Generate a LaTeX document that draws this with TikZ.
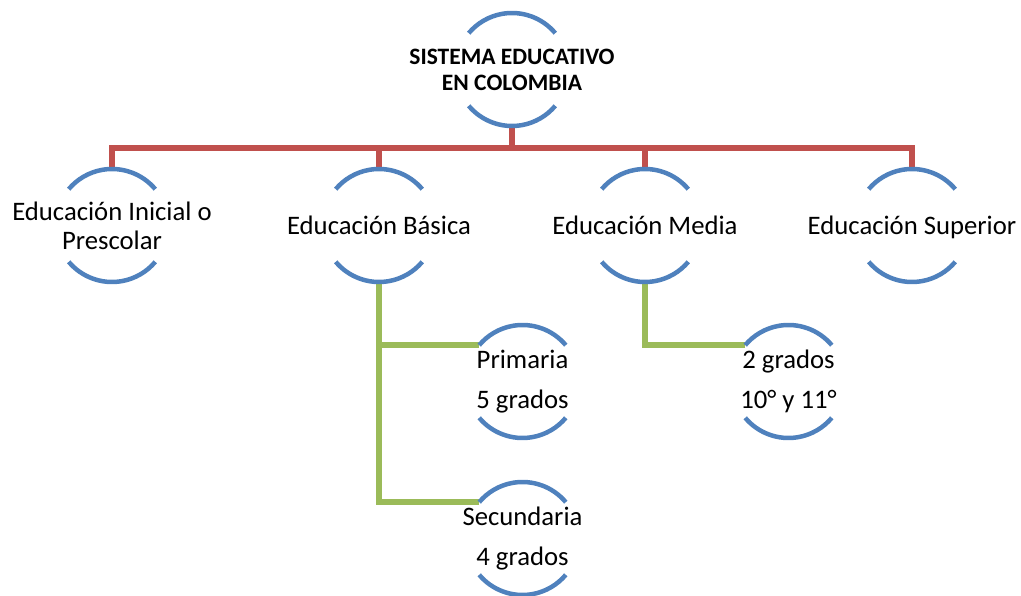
\documentclass[tikz,border=0pt]{standalone}
\usepackage{fontspec}
\setmainfont{Carlito}
\usepackage{tikz}
\definecolor{ringblue}{HTML}{4F81BD}
\definecolor{busred}{HTML}{C0504D}
\definecolor{subgreen}{HTML}{9BBB59}
\tikzset{
        ring/.style={circle, minimum size=113pt, inner sep=0pt, outer sep=0pt},
        lbl/.style={align=center, font=\fontsize{26.7}{29}\selectfont},
        lblone/.style={lbl, text height=22pt, text depth=4pt},
        lblwide/.style={align=center, font=\fontsize{26.7}{40}\selectfont},
        lbltop/.style={align=center, font=\fontsize{23.5}{26}\selectfont\bfseries},
        arcline/.style={draw=ringblue, line width=4.5pt},
        redline/.style={draw=busred, line width=6pt},
        greenline/.style={draw=subgreen, line width=6pt},
    }
\begin{document}
\begin{tikzpicture}[x = 1pt, y = 1pt]
                \useasboundingbox (0,0) rectangle (1021,596);
                \node[ring, label={[lbltop]center:{SISTEMA EDUCATIVO\\EN COLOMBIA}}] (sis) at (512,526.5) {};
                \node[ring, label={[lbl]center:{Educación Inicial o\\Prescolar}}] (ini) at (112,370.5) {};
                \node[ring, label={[lblone]center:{Educación Básica}}] (bas) at (379,370.5) {};
                \node[ring, label={[lblone]center:{Educación Media}}] (med) at (645,370.5) {};
                \node[ring, label={[lblone]center:{Educación Superior}}] (sup) at (912,370.5) {};
                \node[ring, label={[lblwide]center:{Primaria\\5 grados}}] (pri) at (522.5,214.5) {};
                \node[ring, label={[lblwide]center:{Secundaria\\4 grados}}] (sec) at (522.5,57.5) {};
                \node[ring, label={[lblwide]center:{2 grados\\10° y 11°}}] (gra) at (788.5,214.5) {};
                \coordinate (bus) at (512,448);
                \draw[redline] (sis.south) -- (bus);
                \foreach \n in {ini,bas,med,sup}
                    \draw[redline] (bus) -| (\n.north);
                \draw[greenline] (bas.south) |- (pri.140);
                \draw[greenline] (bas.south) |- (sec.140);
                \draw[greenline] (med.south) |- (gra.140);
                \foreach \n in {sis,ini,bas,med,sup,pri,sec,gra}
                {
                    \draw[arcline] (\n.40) arc[start angle=40, end angle=140, radius=56.5pt];
                    \draw[arcline] (\n.220) arc[start angle=220, end angle=320, radius=56.5pt];
                }
            \end{tikzpicture}
\end{document}
